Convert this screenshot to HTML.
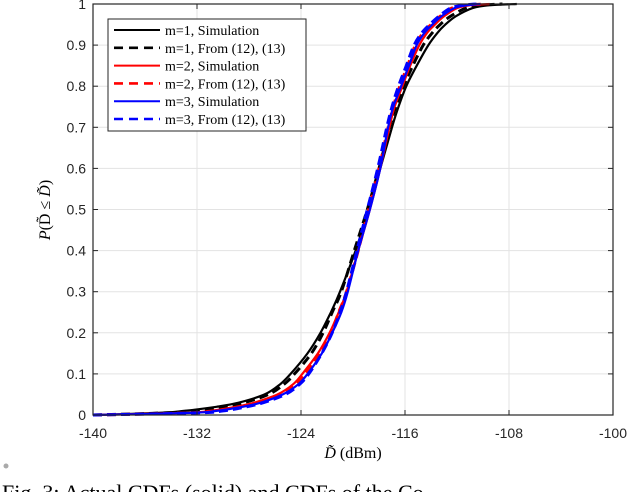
<!DOCTYPE html>
<html><head><meta charset="utf-8"><style>
body{margin:0;background:#fff;width:640px;height:492px;overflow:hidden;position:relative}
svg{position:absolute;left:0;top:0}
</style></head><body>
<svg id="chart" width="640" height="492" font-family="Liberation Sans, sans-serif">
<g id="grid"></g>
<g id="series"></g>
<rect x="93" y="4" width="520" height="411" fill="none" stroke="#262626" stroke-width="1.2"/>
<g id="ticks"></g>
<text x="353" y="458" text-anchor="middle" font-family="Liberation Serif, serif" font-size="16"><tspan font-style="italic">D̃</tspan> (dBm)</text>
<text transform="translate(50,210) rotate(-90)" text-anchor="middle" font-family="Liberation Serif, serif" font-size="16"><tspan font-style="italic">P</tspan>(D̃ ≤ <tspan font-style="italic">D̃</tspan>)</text>
<g id="legend">
<rect x="108" y="19" width="198" height="112" fill="#fff" stroke="#262626" stroke-width="1"/>
</g>
<circle cx="6" cy="466" r="2.5" fill="#aaa"/>
<text x="2" y="500" font-family="Liberation Serif, serif" font-size="22">Fig. 3: Actual CDFs (solid) and CDFs of the Co</text>
</svg>
<script>
const ns="http://www.w3.org/2000/svg";
const xTicks=[-140,-132,-124,-116,-108,-100];
const yTicks=[0,0.1,0.2,0.3,0.4,0.5,0.6,0.7,0.8,0.9,1];
const probs=[0,0.005,0.01,0.02,0.03,0.05,0.075,0.1,0.15,0.2,0.25,0.3,0.4,0.5,0.6,0.7,0.75,0.8,0.85,0.9,0.93,0.95,0.97,0.99,0.997,1];
const m1Sim=[-140,-135,-133,-130.5,-128.8,-126.8,-125.6,-124.8,-123.5,-122.5,-121.7,-121.0,-119.8,-118.8,-117.9,-117.0,-116.5,-115.9,-115.1,-114.2,-113.5,-112.9,-112.1,-110.8,-109.5,-107.4];
const m1Eq=[-140,-134.5,-132.5,-130.0,-128.4,-126.5,-125.3,-124.5,-123.2,-122.3,-121.6,-120.9,-119.9,-118.9,-118.0,-117.2,-116.7,-116.1,-115.4,-114.6,-113.9,-113.3,-112.5,-111.3,-110.0,-108.5];
const m2Sim=[-140,-133,-131,-129.0,-127.6,-125.8,-124.6,-123.9,-122.7,-121.8,-121.1,-120.5,-119.6,-118.7,-117.9,-117.2,-116.8,-116.2,-115.6,-114.9,-114.3,-113.7,-113.0,-112.0,-111.0,-109.5];
const m2Eq=[-140,-132.5,-130.5,-128.6,-127.3,-125.6,-124.4,-123.7,-122.6,-121.7,-121.1,-120.5,-119.6,-118.8,-118.0,-117.3,-116.9,-116.4,-115.8,-115.2,-114.6,-114.0,-113.3,-112.4,-111.3,-109.8];
const m3Sim=[-140,-132.5,-130.5,-128.5,-127.1,-125.4,-124.2,-123.5,-122.4,-121.6,-120.9,-120.4,-119.6,-118.7,-117.9,-117.3,-116.9,-116.3,-115.7,-115.1,-114.5,-113.9,-113.2,-112.2,-111.2,-110.2];
const m3Eq=[-140,-132,-130,-128.2,-126.9,-125.2,-124.1,-123.4,-122.4,-121.6,-121.0,-120.5,-119.7,-118.9,-118.1,-117.4,-117.0,-116.5,-115.9,-115.3,-114.7,-114.1,-113.4,-112.5,-111.5,-110.5];
const seriesNames=["m=1, Simulation","m=1, From (12), (13)","m=2, Simulation","m=2, From (12), (13)","m=3, Simulation","m=3, From (12), (13)"];
const seriesData=[m1Sim,m1Eq,m2Sim,m2Eq,m3Sim,m3Eq];
const colors=["#000","#000","#f00","#f00","#00f","#00f"];
const X=v=>93+(v+140)*13, Y=p=>415-p*411;
const g=document.getElementById('grid'),t=document.getElementById('ticks'),s=document.getElementById('series'),lg=document.getElementById('legend');
function mk(tag,at,par){const e=document.createElementNS(ns,tag);for(const k in at)e.setAttribute(k,at[k]);par.appendChild(e);return e;}
function smooth(P){let d='M'+P[0][0].toFixed(1)+','+P[0][1].toFixed(1);
 for(let i=0;i<P.length-1;i++){const p0=P[i-1]||P[i],p1=P[i],p2=P[i+1],p3=P[i+2]||P[i+1];
  const c1=[p1[0]+(p2[0]-p0[0])/6,p1[1]+(p2[1]-p0[1])/6],c2=[p2[0]-(p3[0]-p1[0])/6,p2[1]-(p3[1]-p1[1])/6];
  d+='C'+c1.map(v=>v.toFixed(1))+' '+c2.map(v=>v.toFixed(1))+' '+p2.map(v=>v.toFixed(1));}
 return d;}
xTicks.forEach(v=>{
 const l=mk('line',{x1:X(v),x2:X(v),y1:4,y2:415,stroke:'#e3e3e3'},g);
 
 
 mk('line',{x1:X(v),x2:X(v),y1:415,y2:410,stroke:'#262626'},t);
 mk('line',{x1:X(v),x2:X(v),y1:4,y2:9,stroke:'#262626'},t);
 const tx=mk('text',{x:X(v),y:438,'text-anchor':'middle','font-size':14,fill:'#262626'},t);tx.textContent=v;
 
 
});
yTicks.forEach(v=>{
 const l=mk('line',{x1:93,x2:613,y1:Y(v),y2:Y(v),stroke:'#e3e3e3'},g);
 
 
 mk('line',{x1:93,x2:98,y1:Y(v),y2:Y(v),stroke:'#262626'},t);
 mk('line',{x1:613,x2:608,y1:Y(v),y2:Y(v),stroke:'#262626'},t);
 const tx=mk('text',{x:86,y:Y(v)+5,'text-anchor':'end','font-size':14,fill:'#262626'},t);tx.textContent=v;
 
 
});
seriesData.forEach((d,i)=>{
 const P=d.map((v,j)=>[X(v),Y(probs[j])]);
 const dashed=i%2==1;
 const pl=mk('path',{d:smooth(P),fill:'none',stroke:colors[i],'stroke-width':dashed?3:2.2,'stroke-linejoin':'round','stroke-dasharray':dashed?'9,5':'none'},s);
 
 
 const ly=30+i*17.8;
 mk('line',{x1:114,x2:160,y1:ly,y2:ly,stroke:colors[i],'stroke-width':dashed?2.6:2,'stroke-dasharray':dashed?'9,6':'none'},lg);
 const tx=mk('text',{x:165,y:ly+5,'font-size':14,'font-family':'Liberation Serif, serif'},lg);tx.textContent=seriesNames[i];
 
 
});
</script>
</body></html>
